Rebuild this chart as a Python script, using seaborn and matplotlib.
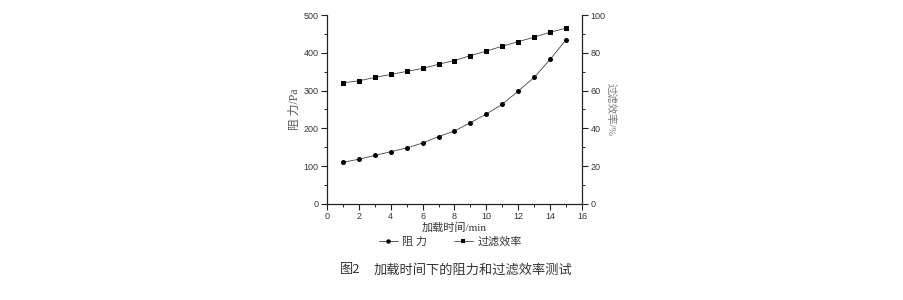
import matplotlib
matplotlib.use("Agg")
import matplotlib.pyplot as plt
import seaborn as sns
import pandas as pd
from matplotlib.ticker import MultipleLocator
from matplotlib.lines import Line2D

sns.set_style("white")
plt.rcParams['font.family'] = ['Liberation Sans', 'Noto Sans CJK SC', 'DejaVu Sans']

time_min = [1, 2, 3, 4, 5, 6, 7, 8, 9, 10, 11, 12, 13, 14, 15]
resistance_pa = [110, 118, 128, 138, 148, 161, 178, 193, 215, 238, 264, 299, 335, 383, 435]
efficiency_pct = [64.2, 65.2, 67.0, 68.6, 70.2, 71.8, 74.0, 76.0, 78.6, 81.0, 83.6, 86.0, 88.4, 91.0, 93.2]

df = pd.DataFrame({"t": time_min, "r": resistance_pa, "e": efficiency_pct})

fig = plt.figure(figsize=(9.04, 3.0), dpi=100)
ax = fig.add_axes([0.3617, 0.321, 0.2821, 0.628])
ax2 = ax.twinx()

sns.lineplot(data=df, x="t", y="r", ax=ax, color="#444444", lw=0.6, marker="o",
             markersize=3.6, markeredgewidth=0, markerfacecolor="black")
sns.lineplot(data=df, x="t", y="e", ax=ax2, color="#444444", lw=0.6, marker="s",
             markersize=3.6, markeredgewidth=0, markerfacecolor="black")

ax.set_xlim(0, 16)
ax.set_ylim(0, 500)
ax2.set_ylim(0, 100)
ax.xaxis.set_major_locator(MultipleLocator(2))
ax.xaxis.set_minor_locator(MultipleLocator(1))
ax.yaxis.set_major_locator(MultipleLocator(100))
ax.yaxis.set_minor_locator(MultipleLocator(50))
ax2.yaxis.set_major_locator(MultipleLocator(20))
ax2.yaxis.set_minor_locator(MultipleLocator(10))

for a in (ax, ax2):
    for s in a.spines.values():
        s.set_visible(False)
ax.spines['left'].set_visible(True)
ax.spines['bottom'].set_visible(True)
ax2.spines['right'].set_visible(True)
for s in (ax.spines['left'], ax.spines['bottom'], ax2.spines['right']):
    s.set_linewidth(0.9)
    s.set_color("#222222")

tick_kw = dict(direction='out', color="#222222", labelsize=6.5, labelcolor="#333333")
ax.tick_params(axis='both', which='major', length=4, width=0.8, pad=2, **tick_kw)
ax.tick_params(axis='both', which='minor', length=2.2, width=0.7, **tick_kw)
ax.tick_params(axis='x', which='both', bottom=True)
ax.tick_params(axis='y', which='both', left=True)
ax2.tick_params(axis='y', which='major', length=4, width=0.8, pad=2, right=True, **tick_kw)
ax2.tick_params(axis='y', which='minor', length=2.2, width=0.7, right=True, **tick_kw)

serif_cjk = ['Liberation Serif', 'Noto Sans CJK SC']
ax.set_xlabel("加载时间/min", family=serif_cjk, fontsize=8, color="#333333", labelpad=1)
ax.set_ylabel("阻 力/Pa", family=serif_cjk, fontsize=8.5, color="#555555", labelpad=2)
ax2.set_ylabel("过滤效率/%", family=serif_cjk, fontsize=7.5, color="#777777",
               rotation=270, labelpad=8)

handles = [Line2D([], [], color="#444444", lw=0.6, marker="o", markersize=3.2, markeredgewidth=0, markerfacecolor="black"),
           Line2D([], [], color="#444444", lw=0.6, marker="s", markersize=3.2, markeredgewidth=0, markerfacecolor="black")]
fig.legend(handles, ["阻 力", "过滤效率"], loc="center", bbox_to_anchor=(0.498, 0.195),
           ncol=2, frameon=False, prop={'family': serif_cjk, 'size': 8},
           handlelength=1.7, handletextpad=0.4, columnspacing=2.4, labelcolor="#333333",
           borderpad=0, borderaxespad=0)

fig.text(0.376, 0.1, "图2", fontsize=9.5, color="#333333", ha="left", va="center",
         family=['Noto Sans CJK SC'])
fig.text(0.413, 0.1, "加载时间下的阻力和过滤效率测试", fontsize=9.5, color="#333333",
         ha="left", va="center", family=['Noto Sans CJK SC'])

fig.savefig("out.png", dpi=100)
